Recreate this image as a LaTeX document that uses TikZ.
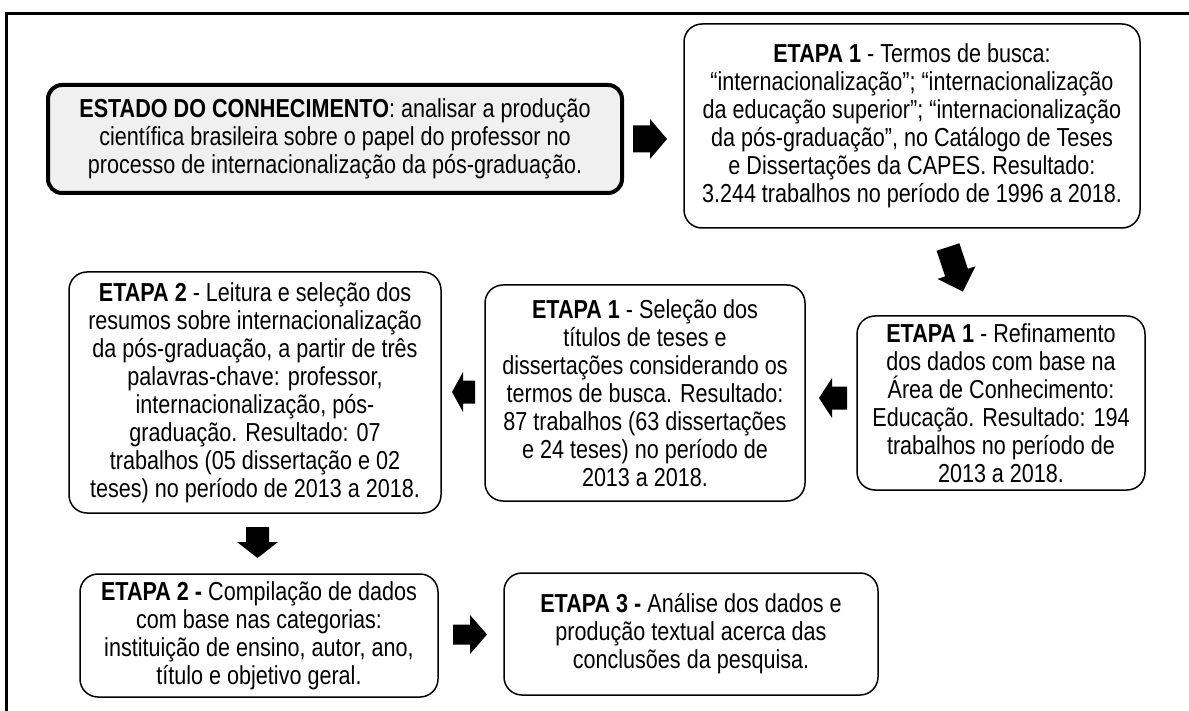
\documentclass[tikz,border=0pt]{standalone}
\usepackage{fontspec}
\setmainfont{Liberation Sans}[FakeStretch=0.83]
\begin{document}
\begin{tikzpicture}[x=0.5pt,y=-0.5pt,
  box/.style={draw, line width=0.75pt, rounded corners=9pt, align=center, inner sep=0pt, font=\fontsize{13}{14}\selectfont},
  estbox/.style={box, line width=2pt, fill=black!6, rounded corners=7pt},
  pics/barrow/.style n args={4}{code={\fill (0,-#3) -- (#2,-#3) -- (#2,-#4) -- (#1,0) -- (#2,#4) -- (#2,#3) -- (0,#3) -- cycle;}},
]
\useasboundingbox (0,0) rectangle (1189,711);
\fill[white] (0,0) rectangle (1189,711);
\draw[line width=1.5pt] (6,711) -- (6,14) -- (1189,14);

\node[estbox, minimum width=287pt, minimum height=54pt] (est) at (335,139)
  {\textbf{ESTADO DO CONHECIMENTO}: analisar a produção\\científica brasileira sobre o papel do professor no\\processo de internacionalização da pós-graduação.};

\node[box, minimum width=228pt, minimum height=102pt] (t1) at (912,126)
  {\textbf{ETAPA 1} - Termos de busca:\\“internacionalização”; “internacionalização\\da educação superior”; “internacionalização\\da pós-graduação”, no Catálogo de Teses\\e Dissertações da CAPES. Resultado:\\3.244 trabalhos no período de 1996 a 2018.};

\node[box, minimum width=144pt, minimum height=87pt] (t2) at (1001,403)
  {\textbf{ETAPA 1} - Refinamento\\dos dados com base na\\Área de Conhecimento:\\Educação. Resultado: 194\\trabalhos no período de\\2013 a 2018.};

\node[box, minimum width=160pt, minimum height=108pt] (t3) at (645,393)
  {\textbf{ETAPA 1} - Seleção dos\\títulos de teses e\\dissertações considerando os\\termos de busca. Resultado:\\87 trabalhos (63 dissertações\\e 24 teses) no período de\\2013 a 2018.};

\node[box, minimum width=186pt, minimum height=120.5pt] (t4) at (255,392.5)
  {\textbf{ETAPA 2} - Leitura e seleção dos\\resumos sobre internacionalização\\da pós-graduação, a partir de três\\palavras-chave: professor,\\internacionalização, pós-\\graduação. Resultado: 07\\trabalhos (05 dissertação e 02\\teses) no período de 2013 a 2018.};

\node[box, minimum width=179pt, minimum height=61.5pt] (t5) at (259,635.5)
  {\textbf{ETAPA 2 -} Compilação de dados\\com base nas categorias:\\instituição de ensino, autor, ano,\\título e objetivo geral.};

\node[box, minimum width=187pt, minimum height=61pt] (t6) at (691,634)
  {\textbf{ETAPA 3 -} Análise dos dados e\\produção textual acerca das\\conclusões da pesquisa.};

\pic at (633,139) {barrow={34}{17}{13.5}{20}};
\pic[rotate=-71.6] at (948,247) {barrow={47}{27}{12}{20}};
\pic[rotate=180] at (847,398) {barrow={28}{15}{11.5}{20}};
\pic[rotate=180] at (475,392) {barrow={23}{12}{11.5}{20}};
\pic[rotate=-90] at (257.5,527) {barrow={31}{15}{11.5}{20.5}};
\pic at (453,634.5) {barrow={34}{17}{10}{19.5}};
\end{tikzpicture}
\end{document}
